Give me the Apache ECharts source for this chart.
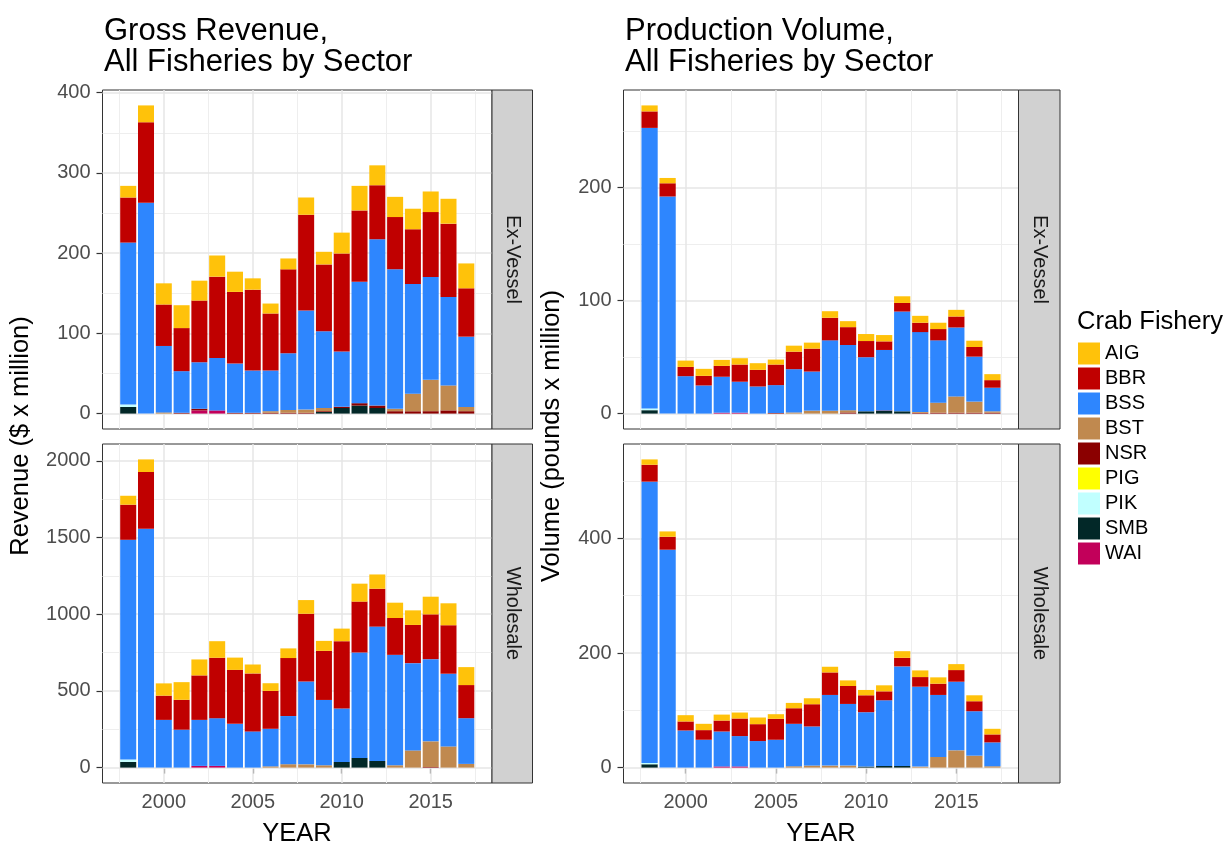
<!DOCTYPE html>
<html>
<head>
<meta charset="utf-8">
<script src="https://cdn.jsdelivr.net/npm/echarts@6/dist/echarts.min.js"></script>
<style>
html, body { margin: 0; padding: 0; background: #fff; }
#chart { width: 1228px; height: 846px; }
</style>
</head>
<body>
<div id="chart"></div>
<script>
var years = [1998, 1999, 2000, 2001, 2002, 2003, 2004, 2005, 2006, 2007,
             2008, 2009, 2010, 2011, 2012, 2013, 2014, 2015, 2016, 2017];
var fisheries = ['AIG', 'BBR', 'BSS', 'BST', 'NSR', 'PIG', 'PIK', 'SMB', 'WAI'];
var palette = ['#FFC20A', '#C00000', '#2E86FE', '#C0894F', '#8B0000', '#FFFF00', '#C1FFFF', '#022828', '#C2005A'];
var xTicks = [2000, 2005, 2010, 2015];

// Gross revenue, ex-vessel ($ x million)
var revExAIG = [14.5, 21, 26.4, 28.5, 24.8, 26.4, 25.2, 14.1, 12.4, 13.6, 21.5, 15.7, 26, 30.6, 24.8, 25.2, 25.6, 25.7, 31, 31];
var revExBBR = [56.2, 100.4, 51.7, 53.7, 76.9, 101.3, 89.3, 100.8, 71.1, 104.6, 119.4, 83.5, 122.3, 88.8, 67.3, 65.2, 68.2, 81, 91.3, 60.3];
var revExBSS = [202, 262.8, 82.8, 51.9, 58, 65.4, 61.4, 52.7, 50.7, 70.7, 123.5, 95.5, 68.8, 151.5, 207.4, 173.8, 136.8, 128.1, 110.4, 87.6];
var revExBST = [0, 0, 1.5, 0, 0, 0, 0, 0, 2, 3.5, 4, 4, 0, 0, 0, 3, 21.9, 39.1, 31.1, 5.3];
var revExNSR = [0, 0, 0, 1, 2, 0, 1, 1, 1, 1, 1, 1, 1.5, 3, 3, 3, 2.9, 3, 4, 3];
var revExPIG = [0, 0, 0, 0, 0, 0, 0, 0, 0, 0, 0, 0, 0, 0, 0, 0, 0, 0, 0, 0];
var revExPIK = [2.9, 0, 0, 0, 0, 0, 0, 0, 0, 0, 0, 0, 0, 0, 0, 0, 0, 0, 0, 0];
var revExSMB = [8.3, 0, 0, 0, 0, 0, 0, 0, 0, 0, 0, 2, 7, 10, 7, 0, 0, 0, 0, 0];
var revExWAI = [0, 0, 0, 0, 4, 4, 0, 0, 0, 0, 0, 0, 0, 0, 0, 0, 0, 0, 0, 0];

// Gross revenue, wholesale ($ x million)
var revWhAIG = [58, 82, 80, 115, 104, 108, 80, 58, 50, 63, 89, 65, 82, 117, 93, 100, 95, 115, 143, 117];
var revWhBBR = [229, 370, 158, 195, 290, 394, 352, 378, 247, 378, 441, 320, 439, 331, 247, 240, 249, 292, 316, 216];
var revWhBSS = [1433, 1557, 311, 247, 300, 311, 285, 236, 245, 314, 541, 426, 348, 688, 876, 720, 569, 536, 474, 298];
var revWhBST = [0, 0, 0, 0, 0, 0, 0, 0, 8, 22, 21, 15, 0, 0, 0, 15, 112, 167, 138, 24];
var revWhNSR = [0, 0, 0, 0, 0, 0, 0, 0, 0, 0, 0, 0, 0, 0, 0, 0, 0, 4, 0, 0];
var revWhPIG = [0, 0, 0, 0, 0, 0, 0, 0, 0, 0, 0, 0, 0, 0, 0, 0, 0, 0, 0, 0];
var revWhPIK = [15, 0, 0, 0, 0, 0, 0, 0, 0, 0, 0, 0, 0, 0, 0, 0, 0, 0, 0, 0];
var revWhSMB = [37, 0, 0, 0, 0, 0, 0, 0, 0, 0, 0, 0, 37, 63, 43, 0, 0, 0, 0, 0];
var revWhWAI = [0, 0, 0, 0, 11, 11, 0, 0, 0, 0, 0, 0, 0, 0, 0, 0, 0, 0, 0, 0];

// Production volume, ex-vessel (pounds x million)
var volExAIG = [5.3, 4.7, 5.6, 6.2, 5.3, 5.6, 5.9, 4.4, 5.3, 5.3, 5.8, 5.3, 6.2, 5.6, 5.9, 6.1, 5.6, 5.9, 5.6, 5.3];
var volExBBR = [14.6, 11.7, 8.2, 8.5, 9.6, 15.2, 14.7, 18.2, 15.5, 20.3, 20, 15.8, 14.3, 7.6, 7.6, 8.3, 10, 9.7, 8.5, 6.7];
var volExBSS = [248.3, 192.1, 33.1, 24.9, 31.8, 27.4, 24, 24.7, 38.3, 34.6, 62.2, 57.7, 47.9, 53.5, 88.3, 70.6, 55.1, 61, 39.8, 20.9];
var volExBST = [0, 0, 0, 0, 0, 0, 0, 0, 1, 2.6, 2.6, 2, 0, 0, 0, 0.8, 8.9, 14.4, 9.8, 1.2];
var volExNSR = [0, 0, 0, 0, 0, 0, 0, 0.5, 0, 0, 0, 1, 0, 0.5, 0, 0.7, 0.8, 0.8, 0.8, 0.8];
var volExPIG = [0, 0, 0, 0, 0, 0, 0, 0, 0, 0, 0, 0, 0, 0, 0, 0, 0, 0, 0, 0];
var volExPIK = [1.5, 0, 0, 0, 0, 0, 0, 0, 0, 0, 0, 0, 0, 0, 0, 0, 0, 0, 0, 0];
var volExSMB = [3, 0, 0, 0, 0, 0, 0, 0, 0, 0, 0, 0, 2, 2.3, 2, 0, 0, 0, 0, 0];
var volExWAI = [0, 0, 0, 0, 0.8, 0.8, 0, 0, 0, 0, 0, 0, 0, 0, 0, 0, 0, 0, 0, 0];

// Production volume, wholesale (pounds x million)
var volWhAIG = [9.3, 9.3, 11, 11, 10.4, 10.4, 11.6, 8.1, 9.3, 10.4, 9.9, 9.8, 9.3, 10.5, 11.6, 11.6, 11, 10.4, 10.4, 9.8];
var volWhBBR = [29.5, 22.6, 15.7, 16.8, 19.1, 30.7, 29.5, 36.5, 27.2, 38.8, 39.3, 31.3, 29.5, 15.6, 15, 16.8, 19.7, 20.3, 17.4, 13.9];
var volWhBSS = [491, 380.3, 64.8, 48.6, 61, 53, 46.3, 48.6, 74.1, 68.3, 123.3, 107.6, 95, 114.6, 173.7, 139.5, 108.3, 119.8, 77.6, 41.7];
var volWhBST = [0, 0, 0, 0, 0, 0, 0, 0, 2.3, 3.5, 3.5, 3.5, 0, 0, 0, 1.7, 18.5, 30.1, 20.8, 2.3];
var volWhNSR = [0, 0, 0, 0, 0, 0, 0, 0, 0, 0, 0, 0, 0, 0, 0, 0, 0, 0, 0, 0];
var volWhPIG = [0, 0, 0, 0, 0, 0, 0, 0, 0, 0, 0, 0, 0, 0, 0, 0, 0, 0, 0, 0];
var volWhPIK = [2.3, 0, 0, 0, 0, 0, 0, 0, 0, 0, 0, 0, 0, 0, 0, 0, 0, 0, 0, 0];
var volWhSMB = [5.8, 0, 0, 0, 0, 0, 0, 0, 0, 0, 0, 0, 1.7, 2.9, 2.9, 0, 0, 0, 0, 0];
var volWhWAI = [0, 0, 0, 0, 2, 2, 0, 0, 0, 0, 0, 0, 0, 0, 0, 0, 0, 0, 0, 0];

var revExTicks = [0, 100, 200, 300, 400];
var revWhTicks = [0, 500, 1000, 1500, 2000];
var volExTicks = [0, 100, 200];
var volWhTicks = [0, 200, 400];

var FONT = 'Liberation Sans, Arial, Helvetica, sans-serif';

var panels = [
	{ box: [102.5, 90, 389.5, 339], strip: 'Ex-Vessel', ticks: revExTicks, bottom: false,
	  values: [revExAIG, revExBBR, revExBSS, revExBST, revExNSR, revExPIG, revExPIK, revExSMB, revExWAI] },
	{ box: [102.5, 444, 389.5, 339], strip: 'Wholesale', ticks: revWhTicks, bottom: true,
	  values: [revWhAIG, revWhBBR, revWhBSS, revWhBST, revWhNSR, revWhPIG, revWhPIK, revWhSMB, revWhWAI] },
	{ box: [623.5, 90, 395, 339], strip: 'Ex-Vessel', ticks: volExTicks, bottom: false,
	  values: [volExAIG, volExBBR, volExBSS, volExBST, volExNSR, volExPIG, volExPIK, volExSMB, volExWAI] },
	{ box: [623.5, 444, 395, 339], strip: 'Wholesale', ticks: volWhTicks, bottom: true,
	  values: [volWhAIG, volWhBBR, volWhBSS, volWhBST, volWhNSR, volWhPIG, volWhPIK, volWhSMB, volWhWAI] }
];

// ggplot style expansion: 5% on each side
var xMin = 1997.55 - 0.05 * 19.9, xMax = 2017.45 + 0.05 * 19.9;
var xMinor = [1997.5, 2002.5, 2007.5, 2012.5, 2017.5];

function halfSteps(ticks, lo, hi) {
	var step = ticks[1] - ticks[0], out = [];
	for (var v = ticks[0] - step / 2; v < hi; v += step) {
		if (v > lo) out.push(v);
	}
	return out;
}

var grids = [], xAxes = [], yAxes = [], series = [], graphics = [];
var plain = function (v) { return String(v); };
var major = { color: '#E6E6E6', width: 1.5, type: 'solid' };
var minor = { color: '#EEEEEE', width: 1, type: 'solid' };

panels.forEach(function (p, i) {
	var totals = years.map(function (y, k) {
		return p.values.reduce(function (s, arr) { return s + arr[k]; }, 0);
	});
	var top = Math.max.apply(null, totals);
	var yMin = -0.05 * top, yMax = 1.05 * top;

	grids.push({ left: p.box[0], top: p.box[1], width: p.box[2], height: p.box[3],
		show: true, borderColor: '#333333', borderWidth: 1, backgroundColor: '#fff' });

	xAxes.push({
		type: 'value', gridIndex: i, min: xMin, max: xMax,
		splitLine: { show: false }, axisLine: { show: false },
		axisTick: { show: p.bottom, customValues: xTicks, length: 6, lineStyle: { color: '#333333', width: 1.2 } },
		axisLabel: { show: p.bottom, customValues: xTicks, formatter: plain, fontSize: 20, color: '#4D4D4D', fontFamily: FONT, margin: 9 }
	});
	yAxes.push({
		type: 'value', gridIndex: i, min: yMin, max: yMax,
		splitLine: { show: false }, axisLine: { show: false },
		axisTick: { customValues: p.ticks, length: 6, lineStyle: { color: '#333333', width: 1.2 } },
		axisLabel: { customValues: p.ticks, formatter: plain, fontSize: 20, color: '#4D4D4D', fontFamily: FONT, margin: 12 }
	});

	// gridlines drawn behind the bars
	var lines = [];
	halfSteps(p.ticks, yMin, yMax).forEach(function (v) { lines.push({ yAxis: v, lineStyle: minor }); });
	xMinor.forEach(function (v) { lines.push({ xAxis: v, lineStyle: minor }); });
	p.ticks.forEach(function (v) { lines.push({ yAxis: v, lineStyle: major }); });
	xTicks.forEach(function (v) { lines.push({ xAxis: v, lineStyle: major }); });

	// ggplot stacks the first level on top, so build from the last one up.
	// value first so that the stack runs on y, not on the year
	for (var f = fisheries.length - 1; f >= 0; f--) {
		var s = {
			name: fisheries[f], type: 'bar', stack: 'panel' + i,
			xAxisIndex: i, yAxisIndex: i, barWidth: '90%', z: 2,
			encode: { x: 1, y: 0 },
			itemStyle: { color: palette[f] },
			data: years.map(function (y, k) { return [p.values[f][k], y]; })
		};
		if (f === fisheries.length - 1) {
			s.markLine = { silent: true, z: 1, symbol: 'none', label: { show: false },
				lineStyle: { type: 'solid' }, emphasis: { disabled: true }, data: lines };
		}
		series.push(s);
	}

	// facet strip on the right
	var sx = p.box[0] + p.box[2];
	var sw = i < 2 ? 40.5 : 41.5;
	graphics.push({ type: 'rect', shape: { x: sx, y: p.box[1], width: sw, height: p.box[3] },
		style: { fill: '#D1D1D1', stroke: '#333333', lineWidth: 1 }, z: 10 });
	graphics.push({ type: 'text', x: sx + sw / 2, y: p.box[1] + p.box[3] / 2, rotation: -Math.PI / 2,
		style: { text: p.strip, font: '20px ' + FONT, fill: '#1A1A1A', align: 'center', verticalAlign: 'middle' }, z: 11 });
});

function label(text, x, y, size, rot, align) {
	return { type: 'text', x: x, y: y, rotation: rot || 0, z: 11,
		style: { text: text, font: size + 'px ' + FONT, fill: '#000', align: align || 'center', verticalAlign: 'middle' } };
}

graphics.push(label('Gross Revenue,', 104, 31, 31, 0, 'left'));
graphics.push(label('All Fisheries by Sector', 104, 62, 31, 0, 'left'));
graphics.push(label('Production Volume,', 625, 31, 31, 0, 'left'));
graphics.push(label('All Fisheries by Sector', 625, 62, 31, 0, 'left'));
graphics.push(label('Revenue ($ x million)', 21, 436, 25.5, Math.PI / 2));
graphics.push(label('Volume (pounds x million)', 552, 436, 25.5, Math.PI / 2));
graphics.push(label('YEAR', 297, 834, 25.5));
graphics.push(label('YEAR', 821, 834, 25.5));
graphics.push(label('Crab Fishery', 1077, 322, 25.5, 0, 'left'));

var chart = echarts.init(document.getElementById('chart'), null, { renderer: 'canvas' });
chart.setOption({
	animation: false,
	backgroundColor: '#fff',
	grid: grids,
	xAxis: xAxes,
	yAxis: yAxes,
	legend: {
		orient: 'vertical', left: 1078, top: 342.5, padding: 0,
		itemWidth: 22, itemHeight: 22, itemGap: 3, icon: 'rect',
		data: fisheries, selectedMode: false,
		textStyle: { fontSize: 20, color: '#000', fontFamily: FONT }
	},
	graphic: graphics,
	series: series
});
</script>
</body>
</html>
